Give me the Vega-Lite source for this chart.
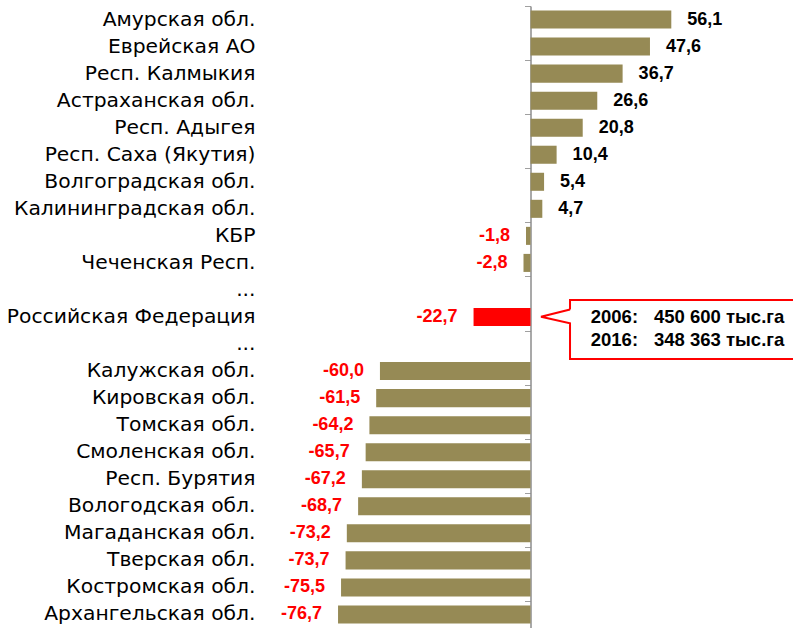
{
  "$schema": "https://vega.github.io/schema/vega-lite/v6.json",
  "width": 528,
  "height": 622,
  "autosize": {"type": "none"},
  "padding": {"left": 262, "top": 6, "right": 3, "bottom": 0},
  "background": "white",
  "config": {
    "view": {"stroke": null},
    "axis": {"grid": false},
    "locale": {"number": {"decimal": ",", "thousands": " ", "grouping": [3], "currency": ["", ""], "minus": "-"}}
  },
  "datasets": {
    "regions": [
      {"region": "Амурская обл.", "change": 56.1},
      {"region": "Еврейская АО", "change": 47.6},
      {"region": "Респ. Калмыкия", "change": 36.7},
      {"region": "Астраханская обл.", "change": 26.6},
      {"region": "Респ. Адыгея", "change": 20.8},
      {"region": "Респ. Саха (Якутия)", "change": 10.4},
      {"region": "Волгоградская обл.", "change": 5.4},
      {"region": "Калининградская обл.", "change": 4.7},
      {"region": "КБР", "change": -1.8},
      {"region": "Чеченская Респ.", "change": -2.8},
      {"region": "...", "change": null},
      {"region": "Российская Федерация", "change": -22.7},
      {"region": "...\u200b", "change": null},
      {"region": "Калужская обл.", "change": -60.0},
      {"region": "Кировская обл.", "change": -61.5},
      {"region": "Томская обл.", "change": -64.2},
      {"region": "Смоленская обл.", "change": -65.7},
      {"region": "Респ. Бурятия", "change": -67.2},
      {"region": "Вологодская обл.", "change": -68.7},
      {"region": "Магаданская обл.", "change": -73.2},
      {"region": "Тверская обл.", "change": -73.7},
      {"region": "Костромская обл.", "change": -75.5},
      {"region": "Архангельская обл.", "change": -76.7}
    ],
    "callout": [
      {"order": 1, "x": 15.74, "row": 11.22},
      {"order": 2, "x": 15.74, "row": 10.87},
      {"order": 3, "x": 106, "row": 10.87},
      {"order": 4, "x": 106, "row": 13.05},
      {"order": 5, "x": 15.74, "row": 13.05},
      {"order": 6, "x": 15.74, "row": 11.73},
      {"order": 7, "x": 4.18, "row": 11.49},
      {"order": 8, "x": 15.74, "row": 11.22}
    ],
    "notes": [
      {"year": "2006:", "amount": "450 600 тыс.га", "row": 11.49},
      {"year": "2016:", "amount": "348 363 тыс.га", "row": 12.35}
    ]
  },
  "layer": [
    {
      "data": {"name": "regions"},
      "layer": [
        {
          "mark": {"type": "bar"},
          "encoding": {
            "y": {
              "field": "region", "type": "nominal", "sort": null,
              "scale": {
                "domain": ["Амурская обл.", "Еврейская АО", "Респ. Калмыкия", "Астраханская обл.", "Респ. Адыгея", "Респ. Саха (Якутия)", "Волгоградская обл.", "Калининградская обл.", "КБР", "Чеченская Респ.", "...", "Российская Федерация", "...\u200b", "Калужская обл.", "Кировская обл.", "Томская обл.", "Смоленская обл.", "Респ. Бурятия", "Вологодская обл.", "Магаданская обл.", "Тверская обл.", "Костромская обл.", "Архангельская обл."],
                "paddingInner": 0.333, "paddingOuter": 0.1665
              },
              "axis": {"orient": "left", "title": null, "domain": false, "ticks": false, "tickSize": 0, "labelFont": "DejaVu Sans", "labelFontSize": 20.3, "labelColor": "#000000", "labelPadding": 7, "labelLimit": 400}
            },
            "x": {"field": "change", "type": "quantitative", "scale": {"domain": [-107, 103.4], "nice": false}, "axis": null},
            "color": {"condition": {"test": "datum.region === 'Российская Федерация'", "value": "#ff0000"}, "value": "#968a55"}
          }
        },
        {
          "transform": [{"filter": "datum.change > 0"}],
          "mark": {"type": "text", "align": "left", "baseline": "middle", "dx": 16, "font": "Liberation Sans", "fontSize": 18, "fontWeight": "bold", "color": "#000000"},
          "encoding": {
            "y": {"field": "region", "type": "nominal", "sort": null},
            "x": {"field": "change", "type": "quantitative", "scale": {"domain": [-107, 103.4], "nice": false}, "axis": null},
            "text": {"field": "change", "type": "quantitative", "format": ".1f"}
          }
        },
        {
          "transform": [{"filter": "datum.change < 0"}],
          "mark": {"type": "text", "align": "right", "baseline": "middle", "dx": -16, "font": "Liberation Sans", "fontSize": 18, "fontWeight": "bold", "color": "#ff0000"},
          "encoding": {
            "y": {"field": "region", "type": "nominal", "sort": null},
            "x": {"field": "change", "type": "quantitative", "scale": {"domain": [-107, 103.4], "nice": false}, "axis": null},
            "text": {"field": "change", "type": "quantitative", "format": ".1f"}
          }
        }
      ]
    },
    {
      "layer": [
        {
          "data": {"name": "callout"},
          "mark": {"type": "line", "color": "#ff0000", "strokeWidth": 2, "strokeJoin": "miter", "interpolate": "linear"},
          "encoding": {
            "x": {"field": "x", "type": "quantitative", "scale": {"domain": [-107, 103.4], "nice": false}, "axis": null},
            "y": {
              "field": "row", "type": "quantitative",
              "scale": {"domain": [0, 23], "reverse": true, "nice": false, "zero": false},
              "axis": {"orient": "left", "offset": -268.5, "title": null, "labels": false, "values": [0,1,2,3,4,5,6,7,8,9,10,11,12,13,14,15,16,17,18,19,20,21,22,23], "tickSize": 6, "tickColor": "#a0a0a0", "tickWidth": 1, "domain": true, "domainColor": "#8c8c8c", "domainWidth": 1.5, "grid": false}
            },
            "order": {"field": "order", "type": "quantitative"}
          }
        },
        {
          "data": {"name": "notes"},
          "mark": {"type": "text", "align": "left", "baseline": "middle", "font": "Liberation Sans", "fontSize": 18.5, "fontWeight": "bold", "color": "#000000"},
          "encoding": {
            "x": {"datum": 24.0, "type": "quantitative", "scale": {"domain": [-107, 103.4], "nice": false}},
            "y": {"field": "row", "type": "quantitative"},
            "text": {"field": "year"}
          }
        },
        {
          "data": {"name": "notes"},
          "mark": {"type": "text", "align": "left", "baseline": "middle", "font": "Liberation Sans", "fontSize": 18.5, "fontWeight": "bold", "color": "#000000"},
          "encoding": {
            "x": {"datum": 49.2, "type": "quantitative", "scale": {"domain": [-107, 103.4], "nice": false}},
            "y": {"field": "row", "type": "quantitative"},
            "text": {"field": "amount"}
          }
        }
      ]
    }
  ],
  "resolve": {"scale": {"y": "independent"}}
}
